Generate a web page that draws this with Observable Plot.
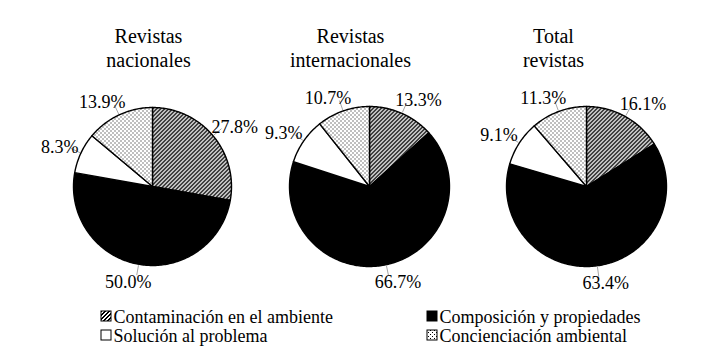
<!DOCTYPE html>
<html><head><meta charset="utf-8">
<script src="https://cdn.jsdelivr.net/npm/d3@7"></script>
<script src="https://cdn.jsdelivr.net/npm/@observablehq/plot@0.6"></script>
<style>body{margin:0;background:#fff}</style>
</head><body><div id="chart"></div>
<script>
// ---- data ----
const categories = ["Contaminación en el ambiente", "Composición y propiedades", "Solución al problema", "Concienciación ambiental"];
const panelTitles = ["Revistas\nnacionales", "Revistas\ninternacionales", "Total\nrevistas"];
const nacionales = [27.8, 50.0, 8.3, 13.9];
const internacionales = [13.3, 66.7, 9.3, 10.7];
const total = [16.1, 63.4, 9.1, 11.3];

// ---- layout / style ----
const W = 709, H = 363;
const FONT = "'Liberation Serif', 'Times New Roman', serif";
const fills = ["url(#hatch)", "#000", "#fff", "url(#dots)"];
const panels = [
  {values: nacionales, cx: 152, cy: 186, r: 79, tx: 148},
  {values: internacionales, cx: 369, cy: 186, r: 80, tx: 350},
  {values: total, cx: 586, cy: 186, r: 80, tx: 553}
];
const legendLayout = [
  {x: 101, row: 0}, {x: 427, row: 0}, {x: 101, row: 1}, {x: 427, row: 1}
];
const legendRowY = [317, 336];
const SQ = 10;
const labelSize = 18, pad = 13;

const fmt = v => v.toFixed(1) + "%";
const glyphW = ch => ch === "%" ? 0.833 : ch === "." ? 0.25 : 0.5;
const textHalfW = s => [...s].reduce((a, c) => a + glyphW(c), 0) * labelSize / 2;

const pie = d3.pie().sort(null).value(d => d);
const slicePts = [];   // polygon vertices
const labelRows = [];
const leaderRows = [];
panels.forEach((p, pi) => {
  pie(p.values).forEach((a, ci) => {
    const n = Math.max(2, Math.ceil((a.endAngle - a.startAngle) / (Math.PI / 180)));
    const id = pi + "-" + ci;
    slicePts.push({id, cat: ci, x: p.cx, y: p.cy});
    for (let k = 0; k <= n; k++) {
      const t = a.startAngle + (a.endAngle - a.startAngle) * k / n;
      slicePts.push({id, cat: ci, x: p.cx + p.r * Math.sin(t), y: p.cy - p.r * Math.cos(t)});
    }
    slicePts.push({id, cat: ci, x: p.cx, y: p.cy});
    const m = (a.startAngle + a.endAngle) / 2;
    const dx = Math.sin(m), dy = -Math.cos(m);
    const text = fmt(a.value);
    const hw = textHalfW(text), hh = dy < 0 ? 1 : 5;
    labelRows.push({
      text,
      x: p.cx + (p.r + pad) * dx + 0.5 * hw * Math.tanh(5 * dx),
      y: p.cy + (p.r + pad) * dy + hh * dy
    });
    leaderRows.push({
      x1: p.cx + (p.r + 1) * dx, y1: p.cy + (p.r + 1) * dy,
      x2: p.cx + (p.r + pad - 2) * dx, y2: p.cy + (p.r + pad - 2) * dy
    });
  });
});

const titleRows = panels.map((p, i) => ({text: panelTitles[i], x: p.tx, y: 25}));
const legendRows = categories.map((c, i) => ({
  text: c, fill: fills[i],
  x1: legendLayout[i].x, x2: legendLayout[i].x + SQ,
  y1: legendRowY[legendLayout[i].row] - SQ / 2 - 1, y2: legendRowY[legendLayout[i].row] + SQ / 2 - 1,
  tx: legendLayout[i].x + SQ + 2, ty: legendRowY[legendLayout[i].row]
}));

const marks = [];
categories.forEach((c, ci) => {
  marks.push(Plot.line(slicePts.filter(d => d.cat === ci), {
    x: "x", y: "y", z: "id", fill: fills[ci], stroke: "#000", strokeWidth: 1.4, strokeLinejoin: "round"
  }));
  const lr = legendRows[ci];
  marks.push(Plot.rect([lr], {x1: "x1", x2: "x2", y1: "y1", y2: "y2", fill: fills[ci], stroke: "#000", strokeWidth: 1}));
});
marks.push(
  Plot.link(leaderRows, {x1: "x1", y1: "y1", x2: "x2", y2: "y2", stroke: "#a6a6a6", strokeWidth: 1}),
  Plot.text(labelRows, {x: "x", y: "y", text: "text", fontSize: labelSize, fill: "#000"}),
  Plot.text(titleRows, {x: "x", y: "y", text: "text", fontSize: 20, lineAnchor: "top", lineHeight: 1.2, fill: "#000"}),
  Plot.text(legendRows, {x: "tx", y: "ty", text: "text", fontSize: 18, textAnchor: "start", fill: "#000"})
);

const chart = Plot.plot({
  width: W, height: H, margin: 0,
  x: {domain: [0, W], range: [0, W], axis: null},
  y: {domain: [0, H], range: [0, H], axis: null},
  style: {fontFamily: FONT, background: "#fff", overflow: "visible"},
  marks
});

const defs = d3.select(chart).insert("defs", ":first-child");
const hatch = defs.append("pattern").attr("id", "hatch").attr("patternUnits", "userSpaceOnUse")
  .attr("width", 4).attr("height", 4).attr("shape-rendering", "crispEdges");
hatch.append("rect").attr("width", 4).attr("height", 4).attr("fill", "#fff");
[[3, 0], [0, 0], [2, 1], [3, 1], [1, 2], [2, 2], [0, 3], [1, 3]].forEach(([x, y]) =>
  hatch.append("rect").attr("x", x).attr("y", y).attr("width", 1).attr("height", 1).attr("fill", "#000"));
const dots = defs.append("pattern").attr("id", "dots").attr("patternUnits", "userSpaceOnUse")
  .attr("width", 4).attr("height", 4).attr("shape-rendering", "crispEdges");
dots.append("rect").attr("width", 4).attr("height", 4).attr("fill", "#fff");
dots.append("rect").attr("x", 0).attr("y", 0).attr("width", 1).attr("height", 1).attr("fill", "#000");
dots.append("rect").attr("x", 2).attr("y", 2).attr("width", 1).attr("height", 1).attr("fill", "#000");

document.getElementById("chart").appendChild(chart);
</script>
</body></html>
